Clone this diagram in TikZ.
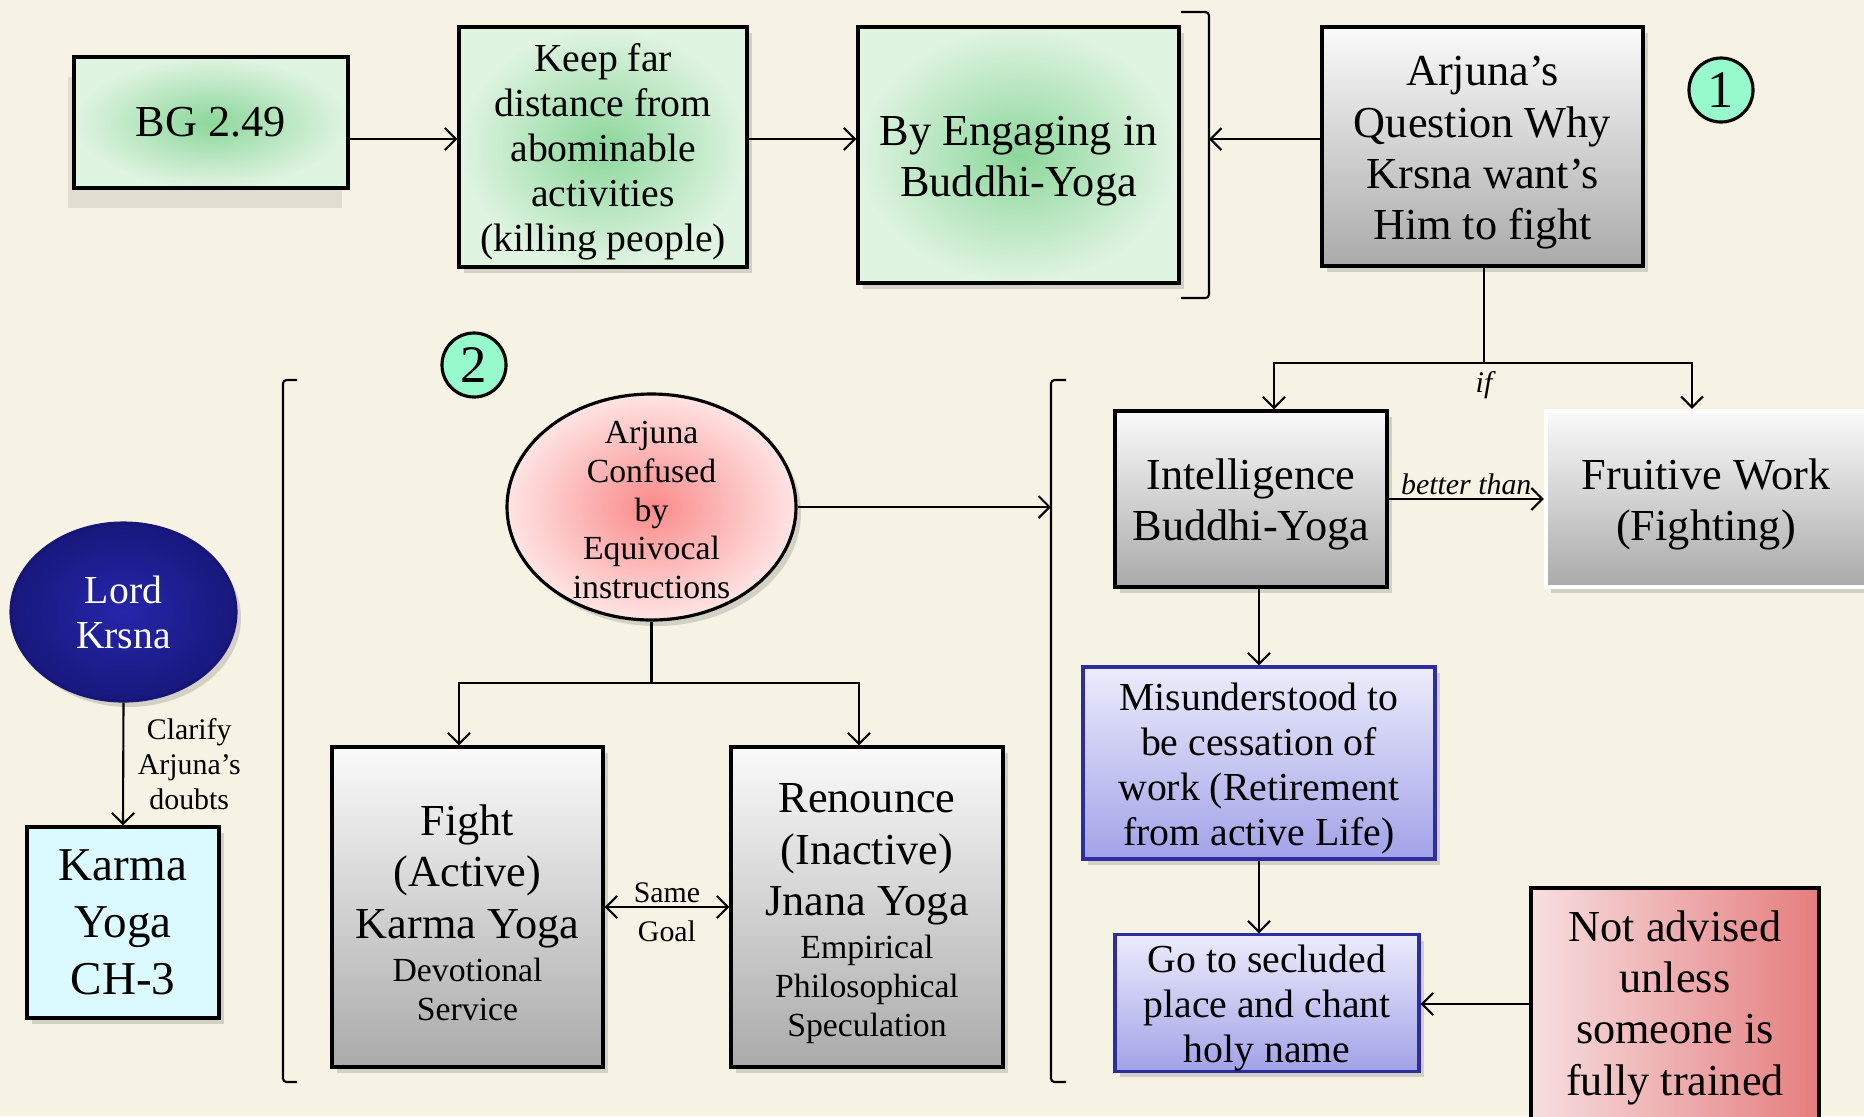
\documentclass[tikz,border=0pt]{standalone}
\usepackage{fontspec}
\setmainfont{Liberation Serif}
\usetikzlibrary{arrows.meta,shapes.geometric,shadows}

\definecolor{cream}{RGB}{247,243,228}
\definecolor{greenmid}{RGB}{140,215,155}
\definecolor{greenedge}{RGB}{224,244,226}
\definecolor{graytop}{RGB}{250,250,250}
\definecolor{graybot}{RGB}{170,170,170}
\definecolor{lilactop}{RGB}{236,236,252}
\definecolor{lilacbot}{RGB}{162,162,232}
\definecolor{lilacline}{RGB}{45,45,160}
\definecolor{rosemid}{RGB}{250,138,138}
\definecolor{roseedge}{RGB}{255,228,228}
\definecolor{roseleft}{RGB}{247,222,224}
\definecolor{roseright}{RGB}{229,126,126}
\definecolor{navy}{RGB}{38,38,170}
\definecolor{navydark}{RGB}{22,22,120}
\definecolor{icecyan}{RGB}{218,250,255}
\definecolor{mint}{RGB}{150,250,205}

\newcommand{\szHuge}{\fontsize{13.4}{16.2}\selectfont}
\newcommand{\szBig}{\fontsize{12.6}{14.6}\selectfont}
\newcommand{\szMid}{\fontsize{11.3}{12.8}\selectfont}
\newcommand{\szSmall}{\fontsize{9.6}{11}\selectfont}
\newcommand{\szTiny}{\fontsize{8.5}{10}\selectfont}
\newcommand{\szBadge}{\fontsize{15}{17}\selectfont}
\newcommand{\topgap}{\rule{0pt}{0.95em}}

\tikzset{
	boxshadow/.style={drop shadow={shadow xshift=0.5mm,shadow yshift=-0.6mm,opacity=0.3}},
	greenbox/.style={draw,line width=0.9pt,inner sep=0pt,align=center,inner color=greenmid,outer color=greenedge,font=\szBig},
	graybox/.style={draw,line width=0.9pt,inner sep=0pt,align=center,top color=graytop,bottom color=graybot,font=\szBig,boxshadow},
	lilacbox/.style={draw=lilacline,line width=0.9pt,inner sep=0pt,align=center,top color=lilactop,bottom color=lilacbot,font=\szMid,boxshadow},
	badge/.style={circle,draw,line width=0.9pt,fill=mint,minimum size=0.64cm,inner sep=0pt,font=\szBadge},
	arr/.style={-{Straight Barb[length=1.1mm,width=2.2mm]}},
	arrboth/.style={{Straight Barb[length=1.1mm,width=2.2mm]}-{Straight Barb[length=1.1mm,width=2.2mm]}},
	tag/.style={font=\szTiny,align=center,inner sep=1pt}
}

\begin{document}
\begin{tikzpicture}[line width=0.6pt]
	\useasboundingbox (0,0) rectangle (18.64,-11.16);
	\fill[cream] (0,0) rectangle (18.64,-11.16);

	\node[greenbox,minimum width=2.74cm,minimum height=1.31cm,drop shadow={shadow xshift=-0.6mm,shadow yshift=-2mm,opacity=0.18}] (bg) at (2.11,-1.225) {BG 2.49};
	\node[greenbox,font=\szMid,minimum width=2.88cm,minimum height=2.40cm,boxshadow] (keep) at (6.03,-1.47) {\topgap Keep far\\distance from\\abominable\\activities\\(killing people)};
	\node[greenbox,minimum width=3.21cm,minimum height=2.56cm,boxshadow] (engage) at (10.185,-1.55) {\topgap By Engaging in\\Buddhi-Yoga};
	\node[graybox,minimum width=3.21cm,minimum height=2.39cm] (question) at (14.825,-1.465) {\topgap Arjuna’s\\Question Why\\Krsna want’s\\Him to fight};
	\node[badge] (one) at (17.21,-0.90) {1};
	\node[badge] (two) at (4.74,-3.65) {2};

	\node[ellipse,draw,line width=0.9pt,inner sep=-0.25cm,minimum width=2.89cm,minimum height=2.26cm,inner color=rosemid,outer color=roseedge,align=center,font=\szSmall,boxshadow] (confused) at (6.515,-5.07) {\rule{0pt}{0.85em}Arjuna\\Confused\\by\\Equivocal\\instructions};
	\node[ellipse,draw=navydark,line width=0.9pt,inner sep=0pt,minimum width=2.25cm,minimum height=1.78cm,inner color=navy,outer color=navydark!90!navy,text=white,align=center,font=\szMid,boxshadow] (krsna) at (1.235,-6.12) {Lord\\Krsna};
	\node[draw,line width=0.9pt,inner sep=0pt,minimum width=1.92cm,minimum height=1.91cm,fill=icecyan,align=center,font=\szHuge,boxshadow] (karma) at (1.23,-9.225) {Karma\\Yoga\\CH-3};
	\node[graybox,minimum width=2.71cm,minimum height=3.20cm] (fight) at (4.675,-9.07) {\topgap Fight\\(Active)\\Karma Yoga\\[-2.2pt]\szSmall Devotional\\[-3.6pt]\szSmall Service};
	\node[graybox,minimum width=2.72cm,minimum height=3.20cm] (renounce) at (8.67,-9.07) {\topgap Renounce\\(Inactive)\\Jnana Yoga\\[-2.2pt]\szSmall Empirical\\[-3.6pt]\szSmall Philosophical\\[-3.6pt]\szSmall Speculation};

	\node[graybox,minimum width=2.72cm,minimum height=1.76cm] (intel) at (12.51,-4.99) {\topgap Intelligence\\Buddhi-Yoga};
	\node[graybox,draw=white,line width=1.2pt,minimum width=3.20cm,minimum height=1.76cm] (fruitive) at (17.06,-4.99) {\topgap Fruitive Work\\(Fighting)};
	\node[lilacbox,minimum width=3.52cm,minimum height=1.92cm] (misund) at (12.59,-7.63) {\topgap Misunderstood to\\be cessation of\\work (Retirement\\from active Life)};
	\node[lilacbox,minimum width=3.04cm,minimum height=1.28cm] (secluded) at (12.67,-10.03) {\topgap Go to secluded\\place and chant\\holy name};
	\node[draw,line width=0.9pt,inner sep=0pt,minimum width=2.88cm,minimum height=2.32cm,left color=roseleft,right color=roseright,align=center,font=\szBig] (notadv) at (16.75,-10.04) {\rule{0pt}{0.85em}Not advised\\unless\\someone is\\fully trained};

	\coordinate (toprow) at (0,-1.39);
	\coordinate (brA) at (12.09,-1.39);
	\coordinate (brB) at (10.51,-5.07);
	\coordinate (ifsplit) at (14.84,-3.63);
	\coordinate (csplit) at (6.515,-6.83);

	\draw[rounded corners=1pt] (11.81,-0.12) -- (12.09,-0.12) -- (12.09,-2.98) -- (11.81,-2.98);
	\draw[rounded corners=1pt] (2.97,-3.80) -- (2.83,-3.80) -- (2.83,-10.82) -- (2.97,-10.82);
	\draw[rounded corners=1pt] (10.66,-3.80) -- (10.51,-3.80) -- (10.51,-10.82) -- (10.66,-10.82);

	\draw[arr] (bg.east |- toprow) -- (keep.west |- toprow);
	\draw[arr] (keep.east |- toprow) -- (engage.west |- toprow);
	\draw[arr] (question.west |- toprow) -- (brA);
	\draw (question.south -| ifsplit) -- (ifsplit) node[below=1pt,tag,font=\szTiny\itshape] {if};
	\draw[arr] (ifsplit) -| ([xshift=0.23cm]intel.north);
	\draw[arr] (ifsplit) -| ([xshift=-0.14cm]fruitive.north);
	\draw[arr] (intel.east) -- (fruitive.west) node[midway,above,tag,font=\szTiny\itshape] {better than};
	\draw[arr] (misund.north |- intel.south) -- (misund.north);
	\draw[arr] (misund.south) -- (misund.south |- secluded.north);
	\draw[arr] (notadv.west) -- (secluded.east |- notadv.west);

	\draw[arr] (confused.east) -- (brB);
	\draw (confused.south) -- (csplit);
	\draw[arr] (csplit) -| ([xshift=-0.085cm]fight.north);
	\draw[arr] (csplit) -| ([xshift=-0.08cm]renounce.north);
	\draw[arrboth] (fight.east) -- (renounce.west) node[midway,above,tag] {Same} node[midway,below=2.5pt,tag] {Goal};
	\draw[arr] (krsna.south) -- (karma.north) node[midway,right=0.1cm,tag] {Clarify\\Arjuna’s\\doubts};
\end{tikzpicture}
\end{document}
